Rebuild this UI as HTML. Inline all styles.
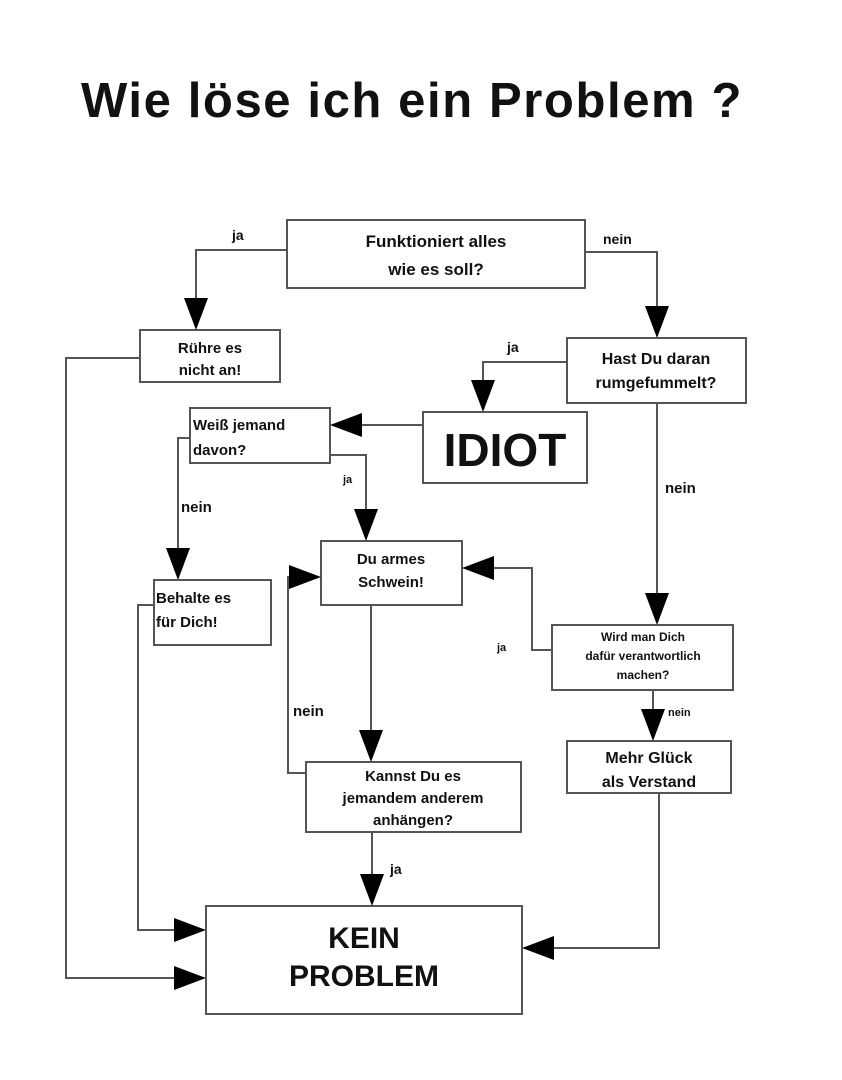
<!DOCTYPE html>
<html><head><meta charset="utf-8"><style>
html,body{margin:0;padding:0;background:#fff}
svg{display:block}
text{font-family:"Liberation Sans",sans-serif;font-weight:bold;fill:#111}
</style></head><body>
<svg width="842" height="1080" viewBox="0 0 842 1080">
<text x="412" y="117" font-size="49" text-anchor="middle" letter-spacing="1.6">Wie löse ich ein Problem ?</text>
<g fill="none" stroke="#555" stroke-width="2">
<rect x="287" y="220" width="298" height="68"/>
<rect x="140" y="330" width="140" height="52"/>
<rect x="567" y="338" width="179" height="65"/>
<rect x="423" y="412" width="164" height="71"/>
<rect x="190" y="408" width="140" height="55"/>
<rect x="321" y="541" width="141" height="64"/>
<rect x="154" y="580" width="117" height="65"/>
<rect x="552" y="625" width="181" height="65"/>
<rect x="567" y="741" width="164" height="52"/>
<rect x="306" y="762" width="215" height="70"/>
<rect x="206" y="906" width="316" height="108"/>
<polyline points="287,250 196,250 196,300"/>
<polyline points="585,252 657,252 657,308"/>
<polyline points="140,358 66,358 66,978 176,978"/>
<polyline points="567,362 483,362 483,382"/>
<polyline points="423,425 360,425"/>
<polyline points="190,438 178,438 178,550"/>
<polyline points="330,455 366,455 366,510"/>
<polyline points="154,605 138,605 138,930 176,930"/>
<polyline points="657,403 657,595"/>
<polyline points="552,650 532,650 532,568 492,568"/>
<polyline points="653,690 653,710"/>
<polyline points="659,793 659,948 552,948"/>
<polyline points="371,605 371,732"/>
<polyline points="306,773 288,773 288,577 291,577"/>
<polyline points="372,832 372,876"/>
</g>
<g fill="#000">
<polygon points="184,298 208,298 196,330"/>
<polygon points="645,306 669,306 657,338"/>
<polygon points="471,380 495,380 483,412"/>
<polygon points="362,413 362,437 330,425"/>
<polygon points="166,548 190,548 178,580"/>
<polygon points="354,509 378,509 366,541"/>
<polygon points="645,593 669,593 657,625"/>
<polygon points="494,556 494,580 462,568"/>
<polygon points="641,709 665,709 653,741"/>
<polygon points="554,936 554,960 522,948"/>
<polygon points="359,730 383,730 371,762"/>
<polygon points="289,565 289,589 321,577"/>
<polygon points="360,874 384,874 372,906"/>
<polygon points="174,918 174,942 206,930"/>
<polygon points="174,966 174,990 206,978"/>
</g>
<g font-size="17" text-anchor="middle">
<text x="436" y="247">Funktioniert alles</text>
<text x="436" y="275">wie es soll?</text>
<text x="210" y="353" font-size="15">Rühre es</text>
<text x="210" y="375" font-size="15">nicht an!</text>
<text x="656" y="364" font-size="16">Hast Du daran</text>
<text x="656" y="388" font-size="16">rumgefummelt?</text>
<text x="505" y="466" font-size="46">IDIOT</text>
<text x="391" y="564" font-size="15">Du armes</text>
<text x="391" y="587" font-size="15">Schwein!</text>
<text x="643" y="641" font-size="12">Wird man Dich</text>
<text x="643" y="660" font-size="12">dafür verantwortlich</text>
<text x="643" y="679" font-size="12">machen?</text>
<text x="649" y="763" font-size="16">Mehr Glück</text>
<text x="649" y="787" font-size="16">als Verstand</text>
<text x="413" y="781" font-size="15">Kannst Du es</text>
<text x="413" y="803" font-size="15">jemandem anderem</text>
<text x="413" y="825" font-size="15">anhängen?</text>
<text x="364" y="948" font-size="30">KEIN</text>
<text x="364" y="986" font-size="30">PROBLEM</text>
</g>
<g font-size="15">
<text x="193" y="430">Weiß jemand</text>
<text x="193" y="455">davon?</text>
<text x="156" y="603">Behalte es</text>
<text x="156" y="627">für Dich!</text>
<text x="232" y="240" font-size="14">ja</text>
<text x="603" y="244" font-size="14">nein</text>
<text x="507" y="352" font-size="14">ja</text>
<text x="181" y="512" font-size="15">nein</text>
<text x="343" y="483" font-size="11">ja</text>
<text x="665" y="493" font-size="15">nein</text>
<text x="497" y="651" font-size="11">ja</text>
<text x="668" y="716" font-size="11">nein</text>
<text x="293" y="716" font-size="15">nein</text>
<text x="390" y="874" font-size="14">ja</text>
</g>
</svg>
</body></html>
